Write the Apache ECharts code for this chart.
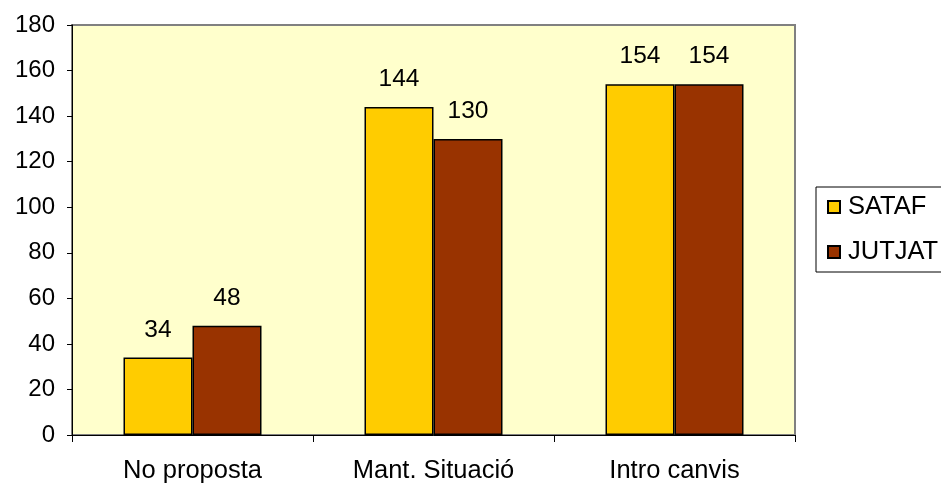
<!DOCTYPE html>
<html>
<head>
<meta charset="utf-8">
<script src="https://cdn.jsdelivr.net/npm/echarts@6/dist/echarts.min.js"></script>
<style>
html,body{margin:0;padding:0;background:#fff;}
#c{width:941px;height:487px;}
</style>
</head>
<body>
<div id="c"></div>
<script>
const categories = ['No proposta', 'Mant. Situació', 'Intro canvis'];
const seriesNames = ['SATAF', 'JUTJAT'];
const satafValues = [34, 144, 154];
const jutjatValues = [48, 130, 154];
const yTicks = [0, 20, 40, 60, 80, 100, 120, 140, 160, 180];

const font = "Arial, 'Liberation Sans', sans-serif";
const chart = echarts.init(document.getElementById('c'));
const labelStyle = {
  show: true, position: 'top', distance: 15,
  color: '#000', fontSize: 24.5, fontFamily: font
};
chart.setOption({
  animation: false,
  backgroundColor: '#fff',
  grid: {
    left: 72, right: 146, top: 25, bottom: 52,
    show: true, backgroundColor: '#FFFFCC',
    borderColor: '#808080', borderWidth: 2
  },
  legend: {
    orient: 'vertical', left: 816, top: 187,
    data: seriesNames,
    icon: 'rect', itemWidth: 12, itemHeight: 12, itemGap: 19,
    borderColor: '#000', borderWidth: 1,
    padding: [7, 30, 7, 11],
    backgroundColor: '#fff',
    textStyle: { color: '#000', fontSize: 25.5, fontFamily: font, lineHeight: 24, padding: [0, 0, 0, 3] }
  },
  xAxis: {
    type: 'category', data: categories,
    axisLine: { lineStyle: { color: '#000', width: 1 } },
    axisTick: { show: true, length: 7, lineStyle: { color: '#000' } },
    axisLabel: { color: '#000', fontSize: 25.5, fontFamily: font, margin: 23 }
  },
  yAxis: {
    type: 'value', min: yTicks[0], max: yTicks[yTicks.length - 1], interval: 20,
    axisLine: { show: true, lineStyle: { color: '#000', width: 1 } },
    axisTick: { show: true, length: 5, lineStyle: { color: '#000' } },
    splitLine: { show: false },
    axisLabel: { color: '#000', fontSize: 24, fontFamily: font, margin: 17 }
  },
  series: [
    {
      name: seriesNames[0], type: 'bar', data: satafValues,
      barWidth: 69, barGap: '0%',
      itemStyle: { color: '#FFCC00', borderColor: '#000', borderWidth: 1.5 },
      label: labelStyle
    },
    {
      name: seriesNames[1], type: 'bar', data: jutjatValues,
      barWidth: 69, barGap: '0%',
      itemStyle: { color: '#993300', borderColor: '#000', borderWidth: 1.5 },
      label: labelStyle
    }
  ]
});
</script>
</body>
</html>
